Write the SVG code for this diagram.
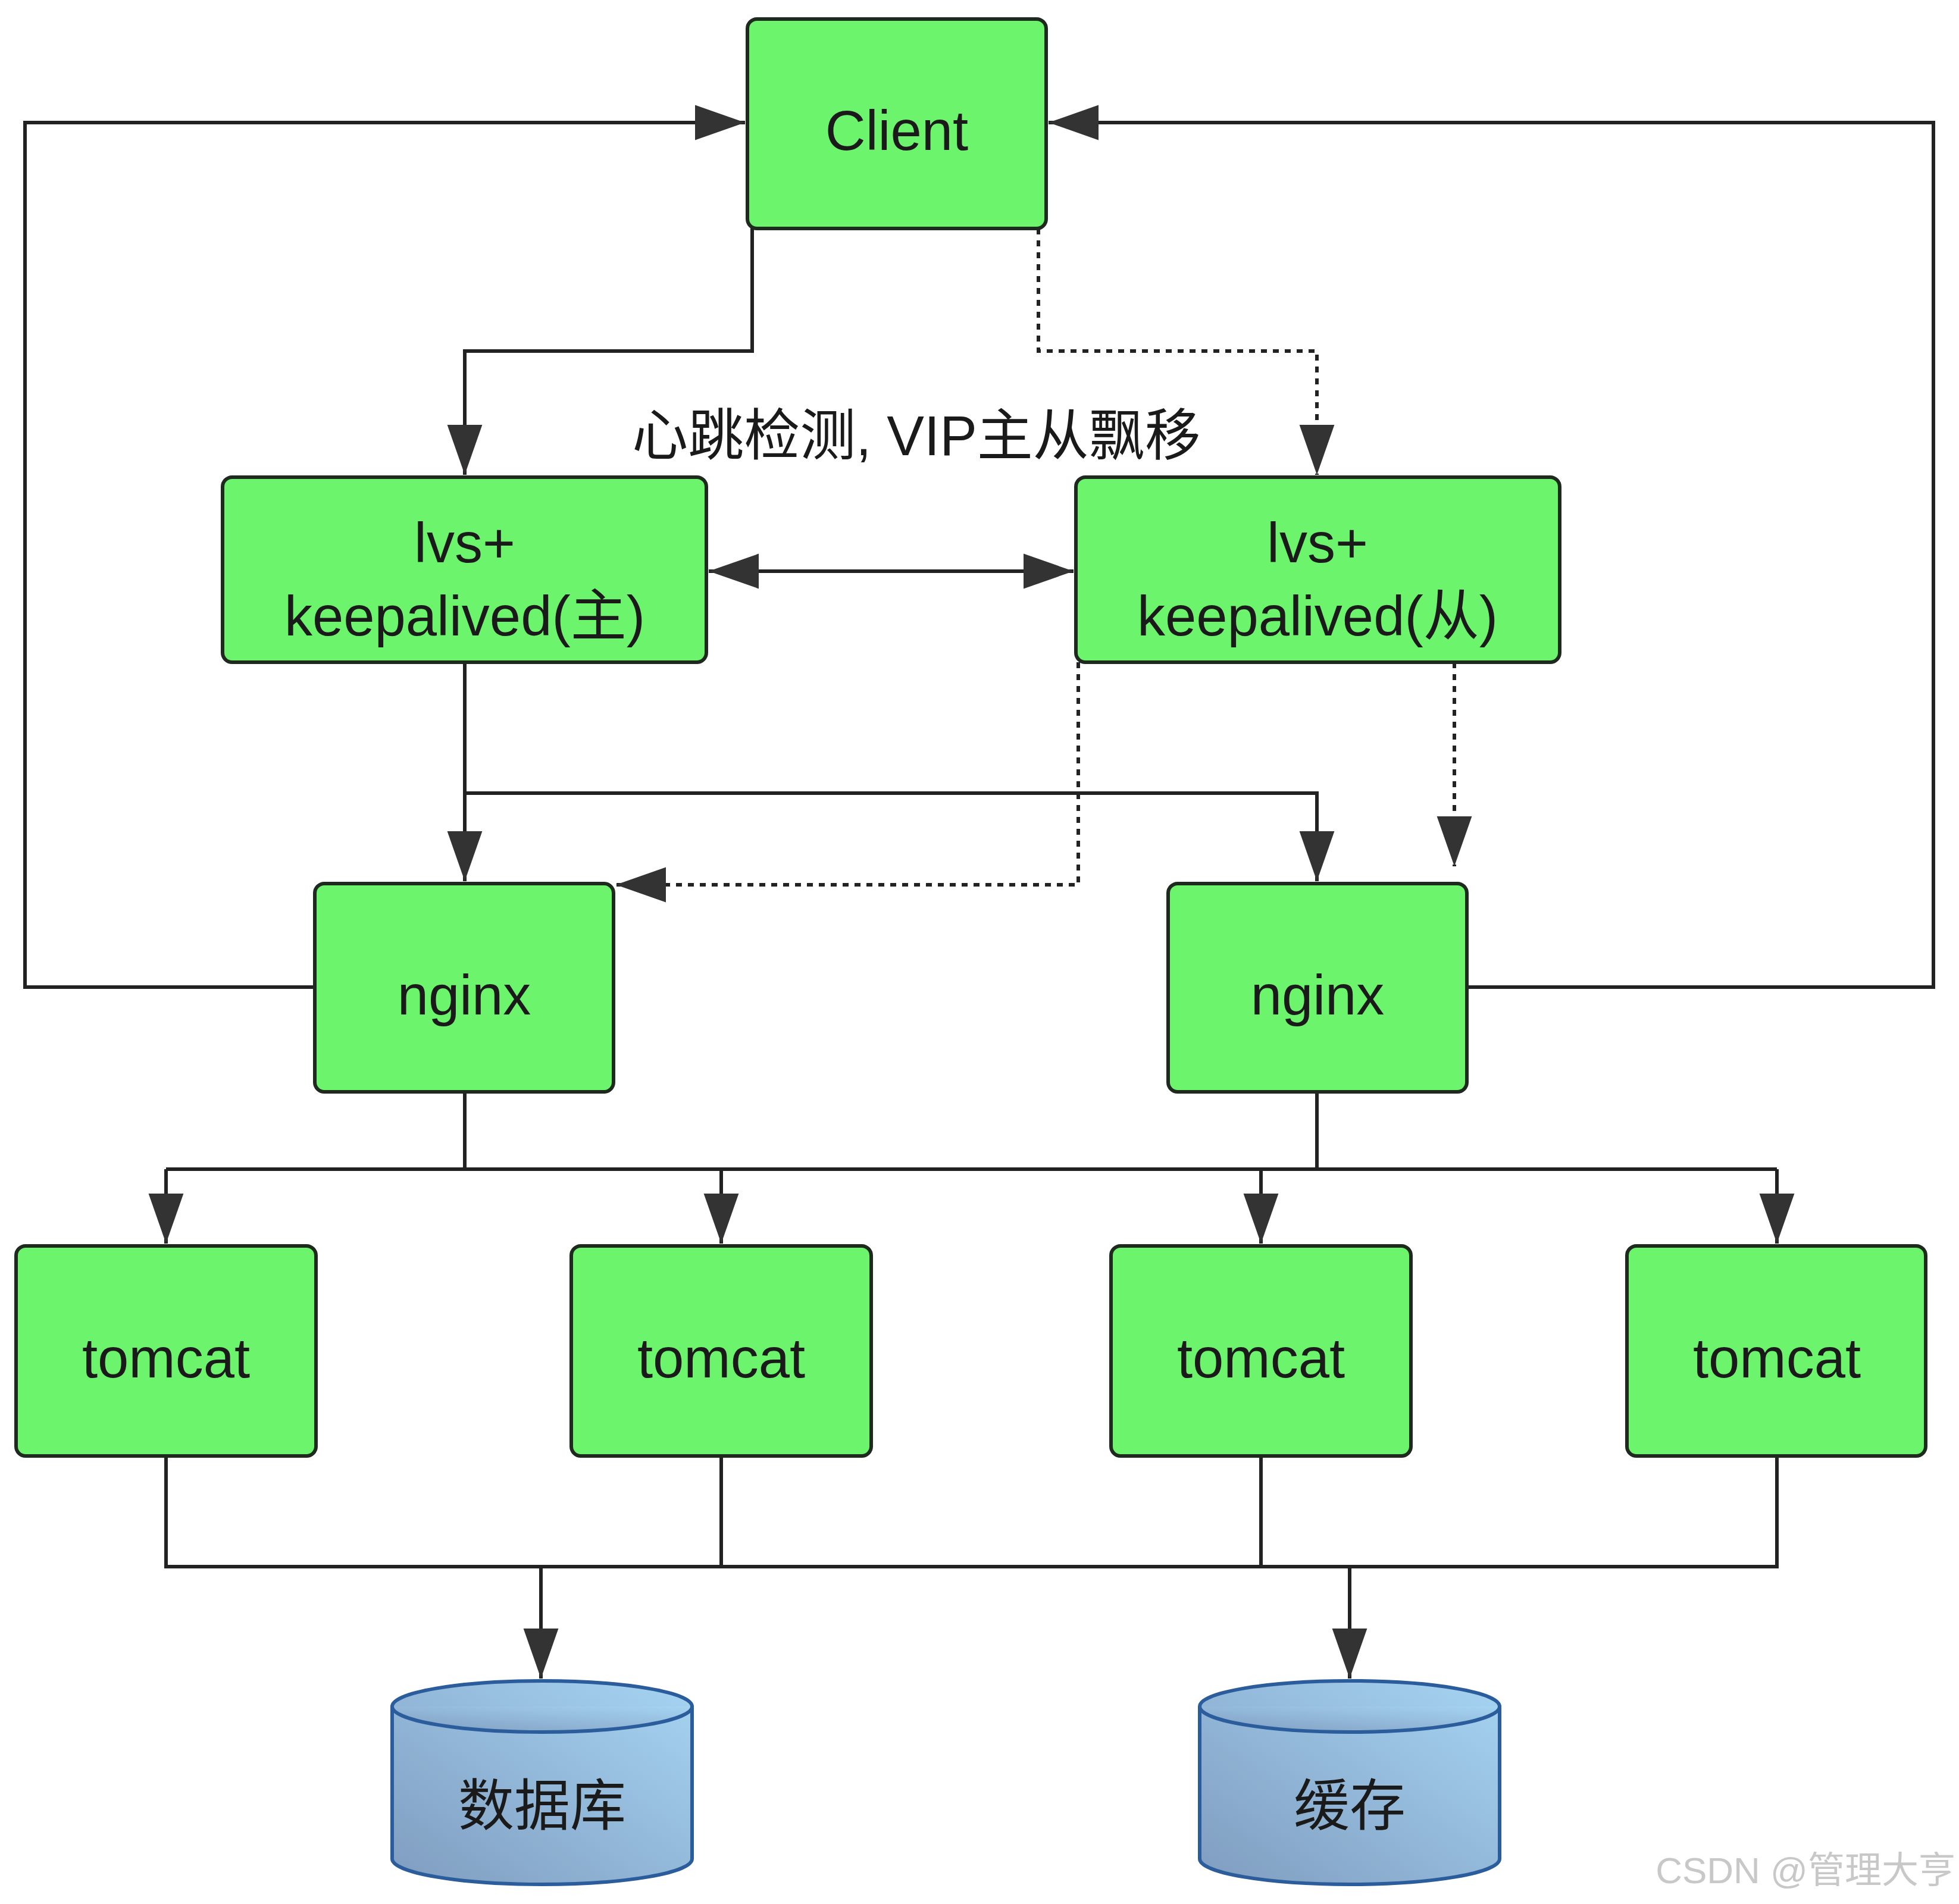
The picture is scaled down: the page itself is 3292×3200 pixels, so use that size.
<svg xmlns="http://www.w3.org/2000/svg" width="3292" height="3200" viewBox="0 0 3292 3200">
<style>
.n{fill:#6cf46c;stroke:#1e2a1e;stroke-width:6}
.t{font-family:"Liberation Sans","Noto Sans CJK SC",sans-serif;font-size:94px;fill:#1a1a1a;text-anchor:middle}
.c{fill:none;stroke:#222;stroke-width:6}
.d{fill:none;stroke:#222;stroke-width:6;stroke-dasharray:10 10}
.cy{fill:url(#g);stroke:#2b5d9c;stroke-width:6}
</style>
<defs>
<marker id="a" viewBox="0 0 10 10" refX="10" refY="5" markerWidth="12" markerHeight="12" markerUnits="userSpaceOnUse" orient="auto"><path d="M0,0L10,5L0,10z" fill="#333" transform="scale(1)"/></marker>
<marker id="ar" viewBox="0 0 10 10" refX="10" refY="5" markerWidth="14" markerHeight="14" orient="auto-start-reverse"><path d="M0,1.5L10,5L0,8.5z" fill="#333"/></marker>
<linearGradient id="g" x1="0" y1="1" x2="1" y2="0"><stop offset="0" stop-color="#7f9cbf"/><stop offset="1" stop-color="#a6d4f2"/></linearGradient>
</defs>
<rect width="3292" height="3200" fill="#fff"/>
<g id="connectors">
<polyline class="c" points="529,1659 42,1659 42,206 1252,206" marker-end="url(#ar)"/>
<polyline class="c" points="2465,1659 3249,1659 3249,206 1762,206" marker-end="url(#ar)"/>
<polyline class="c" points="1264,384 1264,590 781,590 781,798" marker-end="url(#ar)"/>
<polyline class="d" points="1745,384 1745,590 2213,590 2213,798" marker-end="url(#ar)"/>
<line class="c" x1="1191" y1="960" x2="1804" y2="960" marker-start="url(#ar)" marker-end="url(#ar)"/>
<polyline class="c" points="781,1113 781,1481"/>
<line x1="781" y1="1113" x2="781" y2="1481" class="c" marker-end="url(#ar)"/>
<polyline class="c" points="781,1333 2213,1333 2213,1481" marker-end="url(#ar)"/>
<polyline class="d" points="1812,1113 1812,1487 1035,1487" marker-end="url(#ar)"/>
<polyline class="d" points="2444,1113 2444,1456" marker-end="url(#ar)"/>
<polyline class="c" points="781,1835 781,1965"/>
<polyline class="c" points="2213,1835 2213,1965"/>
<polyline class="c" points="279,1965 2986,1965"/>
<line class="c" x1="279" y1="1965" x2="279" y2="2090" marker-end="url(#ar)"/>
<line class="c" x1="1212" y1="1965" x2="1212" y2="2090" marker-end="url(#ar)"/>
<line class="c" x1="2119" y1="1965" x2="2119" y2="2090" marker-end="url(#ar)"/>
<line class="c" x1="2986" y1="1965" x2="2986" y2="2090" marker-end="url(#ar)"/>
<polyline class="c" points="279,2447 279,2633 2986,2633 2986,2447"/>
<line class="c" x1="1212" y1="2447" x2="1212" y2="2633"/>
<line class="c" x1="2119" y1="2447" x2="2119" y2="2633"/>
<line class="c" x1="909" y1="2633" x2="909" y2="2821" marker-end="url(#ar)"/>
<line class="c" x1="2268" y1="2633" x2="2268" y2="2821" marker-end="url(#ar)"/>
</g>
<text class="t" x="1540" y="765">心跳检测, VIP主从飘移</text>
<g id="client"><rect class="n" x="1256" y="32" width="502" height="352" rx="16"/><text class="t" x="1507" y="252">Client</text></g>
<g id="lvs1"><rect class="n" x="374" y="802" width="813" height="311" rx="16"/><text class="t" x="781" y="945">lvs+</text><text class="t" x="781" y="1068">keepalived(主)</text></g>
<g id="lvs2"><rect class="n" x="1808" y="802" width="813" height="311" rx="16"/><text class="t" x="2214" y="945">lvs+</text><text class="t" x="2214" y="1068">keepalived(从)</text></g>
<g id="nginx1"><rect class="n" x="529" y="1485" width="502" height="350" rx="16"/><text class="t" x="780" y="1705">nginx</text></g>
<g id="nginx2"><rect class="n" x="1963" y="1485" width="502" height="350" rx="16"/><text class="t" x="2214" y="1705">nginx</text></g>
<g id="tomcat1"><rect class="n" x="27" y="2094" width="504" height="353" rx="16"/><text class="t" x="279" y="2315">tomcat</text></g>
<g id="tomcat2"><rect class="n" x="960" y="2094" width="504" height="353" rx="16"/><text class="t" x="1212" y="2315">tomcat</text></g>
<g id="tomcat3"><rect class="n" x="1867" y="2094" width="504" height="353" rx="16"/><text class="t" x="2119" y="2315">tomcat</text></g>
<g id="tomcat4"><rect class="n" x="2734" y="2094" width="502" height="353" rx="16"/><text class="t" x="2986" y="2315">tomcat</text></g>
<g id="db"><path class="cy" d="M659,2868 A252,43 0 0 1 1163,2868 L1163,3124 A252,43 0 0 1 659,3124 Z"/><path class="cy" d="M659,2868 A252,43 0 0 0 1163,2868"/><text class="t" x="911" y="3068">数据库</text></g>
<g id="cache"><path class="cy" d="M2016,2868 A252,43 0 0 1 2520,2868 L2520,3124 A252,43 0 0 1 2016,3124 Z"/><path class="cy" d="M2016,2868 A252,43 0 0 0 2520,2868"/><text class="t" x="2268" y="3068">缓存</text></g>
<text x="3286" y="3165" font-family="Liberation Sans,Noto Sans CJK SC,sans-serif" font-size="62" fill="#c8c8c8" text-anchor="end">CSDN @管理大亨</text>
</svg>
